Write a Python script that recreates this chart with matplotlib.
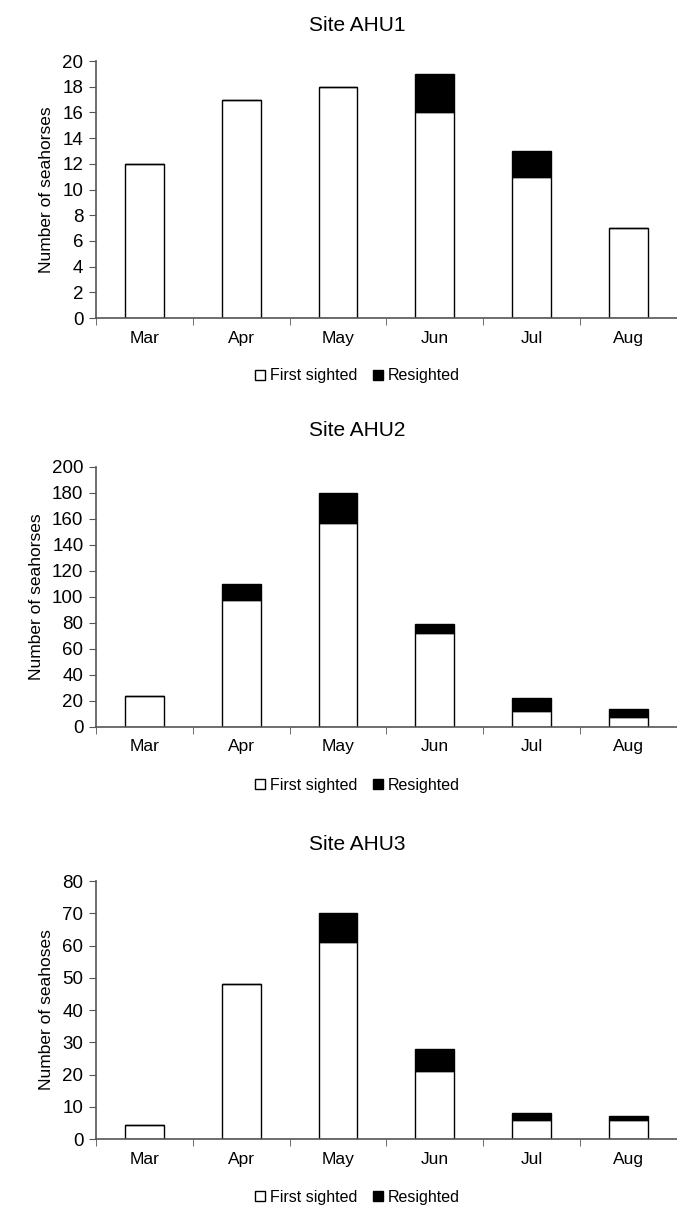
import numpy as np
import matplotlib.pyplot as plt

plt.rcParams["font.family"] = ["Liberation Sans", "DejaVu Sans"]

months = ["Mar", "Apr", "May", "Jun", "Jul", "Aug"]

# Site AHU1
ahu1_first = [12, 17, 18, 16, 11, 7]
ahu1_resight = [0, 0, 0, 3, 2, 0]
# Site AHU2
ahu2_first = [24, 98, 157, 72, 12, 8]
ahu2_resight = [0, 12, 23, 7, 10, 6]
# Site AHU3
ahu3_first = [4.5, 48, 61, 21, 6, 6]
ahu3_resight = [0, 0, 9, 7, 2, 1]

titles = ["Site AHU1", "Site AHU2", "Site AHU3"]
ylabels = ["Number of seahorses", "Number of seahorses", "Number of seahoses"]
ymax = [20, 200, 80]
ystep = [2, 20, 10]

fig = plt.figure(figsize=(6.77, 12.12), dpi=100)

# axes boxes in figure fraction
boxes = [
    [0.1418, 0.7376, 0.858, 0.2120],
    [0.1418, 0.4002, 0.858, 0.2145],
    [0.1418, 0.0602, 0.858, 0.2129],
]

data = [(ahu1_first, ahu1_resight), (ahu2_first, ahu2_resight), (ahu3_first, ahu3_resight)]
x = np.arange(len(months))

for i, (first, resight) in enumerate(data):
    ax = fig.add_axes(boxes[i])
    b1 = ax.bar(x, first, width=0.4, color="white", edgecolor="black", linewidth=1.0,
                label="First sighted")
    b2 = ax.bar(x, resight, width=0.4, bottom=first, color="black", edgecolor="black",
                linewidth=1.0, label="Resighted")
    ax.set_xlim(-0.5, 5.5)
    ax.set_ylim(0, ymax[i])
    ax.set_yticks(np.arange(0, ymax[i] + 0.1, ystep[i]))
    ax.set_xticks(x)
    ax.set_xticklabels(months, fontsize=12.5)
    ax.set_xticks(np.arange(-0.5, 6, 1), minor=True)
    ax.tick_params(axis="x", which="major", length=0, pad=9)
    ax.tick_params(axis="x", which="minor", length=5, direction="out", color="#555555")
    ax.tick_params(axis="y", length=5, direction="out", color="#555555", labelsize=13.5, pad=4)
    for s in ["top", "right"]:
        ax.spines[s].set_visible(False)
    for s in ["left", "bottom"]:
        ax.spines[s].set_color("#555555")
        ax.spines[s].set_linewidth(1.2)
    ax.set_ylabel(ylabels[i], fontsize=12.5, labelpad=6)
    ax.set_title(titles[i], fontsize=15, pad=22, x=0.45)
    ax.legend(handles=[b1, b2], loc="upper center", bbox_to_anchor=(0.45, -0.14),
              ncol=2, frameon=False, fontsize=11.5, handlelength=0.6, handleheight=0.6,
              handletextpad=0.3, columnspacing=1.0)

plt.savefig("out.png", dpi=100)
